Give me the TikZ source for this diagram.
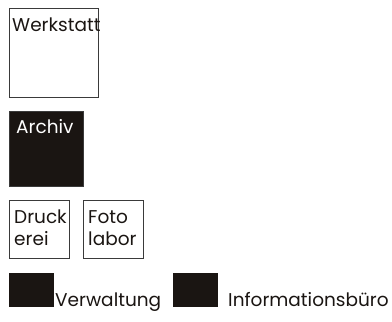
\documentclass[tikz,border=0pt]{standalone}
\usepackage{fontspec}
\setmainfont{Poppins}
\definecolor{ink}{HTML}{1A1512}
\definecolor{edge}{HTML}{3A3A3A}
\begin{document}
\begin{tikzpicture}[x=1pt,y=-1pt,
  room/.style={draw=edge,line width=1pt},
  darkroom/.style={draw=edge,fill=ink,line width=1pt},
  lbl/.style={anchor=base west,inner sep=0pt,font=\fontsize{18.5}{22}\selectfont,text=ink},
  wlbl/.style={lbl,text=white}]
\useasboundingbox (0,0) rectangle (392,322);
\draw[room] (9,8.5) rectangle (98,97);
\node[lbl] (t1) at (12,31) {Werkstatt};
\draw[darkroom] (9,111) rectangle (83,186);
\node[wlbl] (t2) at (16,133) {Archiv};
\draw[room] (9,200) rectangle (69,258);
\node[lbl] (t3a) at (14,223) {Druck};
\node[lbl] (t3b) at (14,245) {erei};
\draw[room] (83,200) rectangle (143,258);
\node[lbl] (t4a) at (88,223) {Foto};
\node[lbl] (t4b) at (88,245) {labor};
\fill[ink] (9,273) rectangle (54,307);
\node[lbl] (t5) at (55,306) {Verwaltung};
\fill[ink] (173,273) rectangle (218,307);
\node[lbl] (t6) at (228,306) {Informationsbüro};
\end{tikzpicture}
\end{document}
